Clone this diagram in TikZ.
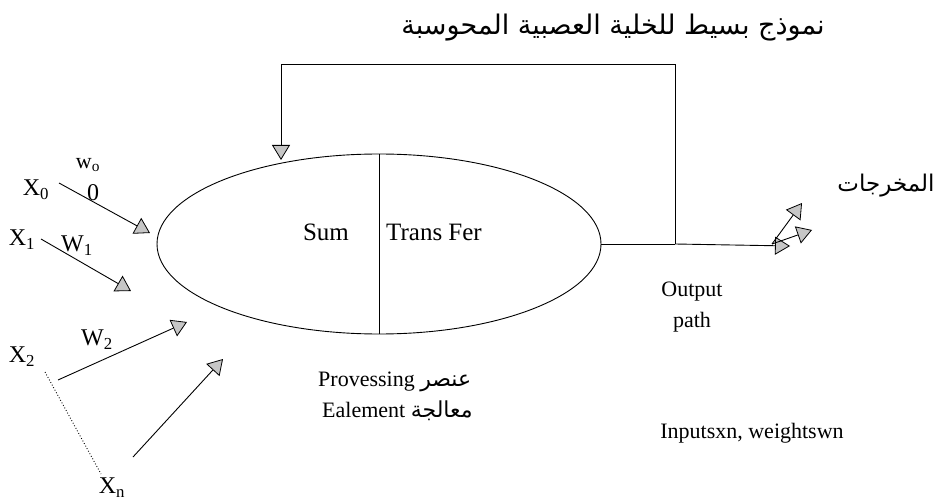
\documentclass[tikz,border=0pt]{standalone}
\usepackage{fontspec}
\setmainfont{Liberation Serif}
\newfontfamily\arabicfont[Script=Arabic]{DejaVu Sans}
\TeXXeTstate=1
\usetikzlibrary{arrows.meta}
\tikzset{
  lbl/.style={font=\fontsize{22}{26}\selectfont, inner sep=0pt},
  xlbl/.style={font=\fontsize{24}{28}\selectfont, inner sep=0pt},
  big/.style={font=\fontsize{25}{29}\selectfont, inner sep=0pt},
  arlbl/.style={font=\arabicfont\fontsize{23}{27}\selectfont, inner sep=0pt},
  wire/.style={line width=0.9pt},
  feed/.style={wire, -{Triangle[length=15pt,width=18pt,fill=gray!45,line width=0.8pt]}},
}
\begin{document}
\begin{tikzpicture}[x=1pt,y=-1pt]
\useasboundingbox (0,0) rectangle (949,502);
% processing element
\draw[wire] (379,244) ellipse [x radius=222, y radius=90];
\coordinate (etop) at (379,154);
\coordinate (ebot) at (379,334);
\coordinate (eeast) at (601,244);
\draw[wire] (etop) -- (ebot);
\node[big] (sum) at (326,232) {Sum};
\node[big] (tf) at (434,232) {Trans Fer};
% title
\node[arlbl, font=\arabicfont\fontsize{27}{31}\selectfont] (title) at (613,28) {\beginR نموذج بسيط للخلية العصبية المحوسبة\endR};
% output path and feedback loop
\coordinate (tap) at (675,244);
\coordinate (tr) at (675,64);
\coordinate (tl) at (281,64);
\coordinate (fin) at (281,160);
\draw[wire] (eeast) -- (tap);
\draw[feed] (tap) -- (tr) -- (tl) -- (fin);
\coordinate (oj) at (772,244);
\coordinate (o1) at (802,203);
\coordinate (o2) at (812,230);
\coordinate (o3) at (790,246);
\draw[feed] (tap) -- (o3);
\draw[feed] (oj) -- (o1);
\draw[feed] (oj) -- (o2);
\node[arlbl] (outs) at (886,186) {\beginR المخرجات\endR};
\node[lbl] (op1) at (692,292) {Output};
\node[lbl] (op2) at (692,322) {path};
% inputs
\node[xlbl] (x0) at (36,190) {X\textsubscript{0}};
\node[lbl] (w0) at (88,165) {w\textsubscript{o}};
\node[xlbl] (z0) at (93,193) {0};
\coordinate (a0s) at (59,183);
\coordinate (a0e) at (150,233);
\draw[feed] (a0s) -- (a0e);
\node[xlbl] (x1) at (22,240) {X\textsubscript{1}};
\node[xlbl] (w1) at (77,246) {W\textsubscript{1}};
\coordinate (a1s) at (41,239);
\coordinate (a1e) at (131,291);
\draw[feed] (a1s) -- (a1e);
\node[xlbl] (x2) at (22,357) {X\textsubscript{2}};
\node[xlbl] (w2) at (97,340) {W\textsubscript{2}};
\coordinate (a2s) at (58,380);
\coordinate (a2e) at (187,322);
\draw[feed] (a2s) -- (a2e);
\coordinate (ds) at (45,372);
\coordinate (de) at (101,474);
\draw[line width=0.9pt, dotted] (ds) -- (de);
\node[xlbl] (xn) at (112,488) {X\textsubscript{n}};
\coordinate (ans) at (133,457);
\coordinate (ane) at (223,359);
\draw[feed] (ans) -- (ane);
% captions
\node[lbl, anchor=west] (pe1) at (318,382) {Provessing \arabicfont\beginR عنصر\endR};
\node[lbl, anchor=west] (pe2) at (322,411) {Ealement \arabicfont\beginR معالجة\endR};
\node[lbl] (iw) at (752,433) {Inputsxn, weightswn};
\end{tikzpicture}
\end{document}
